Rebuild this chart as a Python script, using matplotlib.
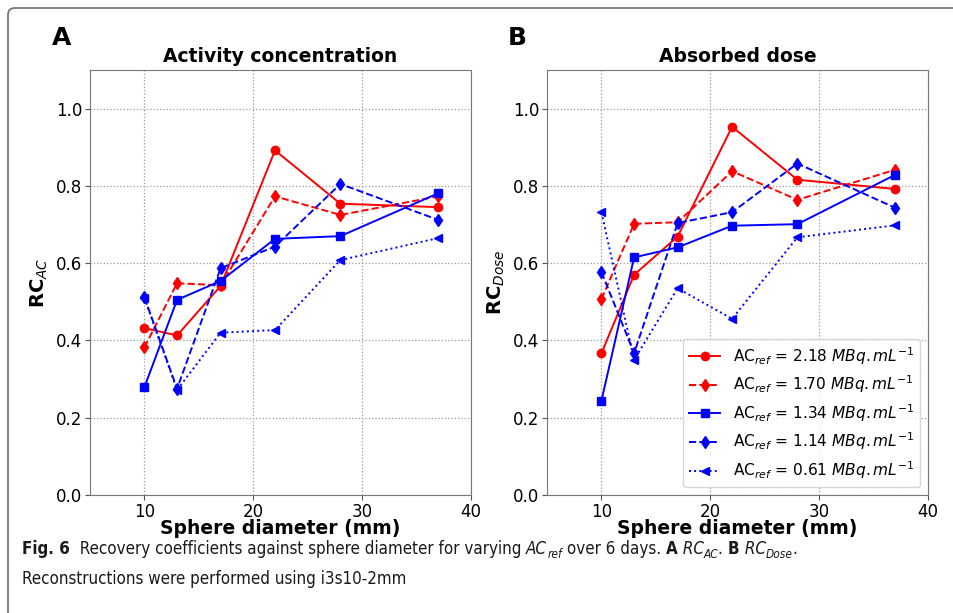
import matplotlib
matplotlib.use("Agg")
from matplotlib import pyplot as plt
from matplotlib import font_manager
from matplotlib.patches import FancyBboxPatch
from matplotlib.transforms import IdentityTransform
import numpy as np

diam = [10, 13, 17, 22, 28, 37]

# RC_AC (panel A)
ac_218 = [0.432, 0.413, 0.541, 0.892, 0.754, 0.745]
ac_170 = [0.382, 0.548, 0.543, 0.773, 0.725, 0.773]
ac_134 = [0.279, 0.505, 0.554, 0.663, 0.670, 0.781]
ac_114 = [0.512, 0.275, 0.587, 0.643, 0.805, 0.712]
ac_061 = [0.510, 0.272, 0.420, 0.427, 0.608, 0.665]

# RC_Dose (panel B)
dose_218 = [0.367, 0.570, 0.669, 0.953, 0.816, 0.792]
dose_170 = [0.507, 0.702, 0.706, 0.838, 0.764, 0.842]
dose_134 = [0.244, 0.615, 0.641, 0.697, 0.701, 0.829]
dose_114 = [0.577, 0.367, 0.704, 0.732, 0.858, 0.743]
dose_061 = [0.732, 0.350, 0.535, 0.456, 0.667, 0.698]

ac_refs = ["2.18", "1.70", "1.34", "1.14", "0.61"]
styles = [("red", "-", "o"), ("red", "--", "d"), ("blue", "-", "s"),
          ("blue", "--", "d"), ("blue", ":", "<")]

fig = plt.figure(figsize=(9.54, 6.13), dpi=100)

# rounded frame around the figure
frame = FancyBboxPatch((8, -40), 1100, 613 - 8 + 40, boxstyle="round,pad=0,rounding_size=7",
                       transform=IdentityTransform(), fill=False, edgecolor="#777777",
                       linewidth=1.3, clip_on=False)
fig.patches.append(frame)

axA = fig.add_axes([0.0943, 0.1925, 0.3994, 0.6933])
axB = fig.add_axes([0.5734, 0.1925, 0.3994, 0.6933])

for ax, data, title, ylab in [(axA, [ac_218, ac_170, ac_134, ac_114, ac_061], "Activity concentration", r"RC$_{AC}$"),
                              (axB, [dose_218, dose_170, dose_134, dose_114, dose_061], "Absorbed dose", r"RC$_{Dose}$")]:
    for vals, ref, (c, ls, m) in zip(data, ac_refs, styles):
        ax.plot(diam, vals, color=c, linestyle=ls, marker=m, markersize=6, linewidth=1.4,
                label=r"AC$_{ref}$ = " + ref + r" $MBq.mL^{-1}$")
    ax.set_xlim(5, 40)
    ax.set_ylim(0, 1.1)
    ax.set_xticks([10, 20, 30, 40])
    ax.set_yticks([0.0, 0.2, 0.4, 0.6, 0.8, 1.0])
    ax.tick_params(labelsize=12, color="#555555", pad=2)
    ax.grid(True, linestyle=":", color="#999999", linewidth=0.9)
    for sp in ax.spines.values():
        sp.set_color("#777777")
    ax.set_title(title, fontsize=13.5, fontweight="bold")
    ax.set_xlabel("Sphere diameter (mm)", fontsize=13.5, fontweight="bold", labelpad=-1)
    ax.set_ylabel(ylab, fontsize=14, fontweight="bold")

axB.legend(loc="lower right", fontsize=11.1, handlelength=2.0, labelspacing=0.45)

fig.text(52 / 954, 1 - 38 / 613, "A", fontsize=18, fontweight="bold", va="center")
fig.text(508 / 954, 1 - 38 / 613, "B", fontsize=18, fontweight="bold", va="center")

# caption font: a condensed sans if one is installed, else Liberation Sans
cap_font = ["Liberation Sans", "DejaVu Sans"]
cap_stretch = "normal"
for f in font_manager.fontManager.ttflist:
    st = str(f.stretch)
    if ("Narrow" in f.name or "Condensed" in f.name or st in ("condensed", "semi-condensed", "75", "87")) \
            and f.style == "normal" and "Mono" not in f.name and "Serif" not in f.name:
        cap_font = [f.name, "DejaVu Sans"]
        cap_stretch = f.stretch
        break
renderer = fig.canvas.get_renderer()

line1 = [("Fig. 6", "bold", "normal", False),
         ("  Recovery coefficients against sphere diameter for varying ", "normal", "normal", False),
         ("AC", "normal", "italic", False), ("ref", "normal", "italic", True),
         (" over 6 days. ", "normal", "normal", False),
         ("A", "bold", "normal", False), (" RC", "normal", "italic", False), ("AC", "normal", "italic", True),
         (". ", "normal", "normal", False),
         ("B", "bold", "normal", False), (" RC", "normal", "italic", False), ("Dose", "normal", "italic", True),
         (".", "normal", "normal", False)]
line2 = [("Reconstructions were performed using i3s10-2mm", "normal", "normal", False)]


def caption_line(pieces, x0, y0, size, draw=True):
    x = x0
    made = []
    for txt, weight, style, sub in pieces:
        s = size * 0.7 if sub else size
        y = y0 + (0.3 * size if sub else 0)
        t = fig.text(x / 954, 1 - y / 613, txt, fontsize=s, fontweight=weight, fontstyle=style,
                     family=cap_font, fontstretch=cap_stretch, va="baseline", ha="left", color="#1a1a1a")
        x += t.get_window_extent(renderer).width
        made.append(t)
    if not draw:
        for t in made:
            t.remove()
    return x - x0


# size so that the first line spans roughly the width it has in the original
probe = caption_line(line1, 22, 554, 13, draw=False)
capsize = min(13.5, 13 * 775 / probe)
caption_line(line1, 22, 554, capsize)
caption_line(line2, 22, 584, capsize)

fig.savefig("out.png", dpi=100)
